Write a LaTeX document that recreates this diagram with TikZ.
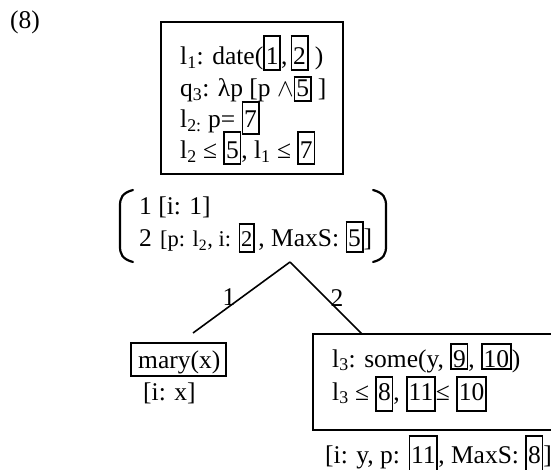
\documentclass[tikz,border=0pt]{standalone}
\usepackage{fontspec}
\setmainfont{Liberation Serif}
\newcommand{\bx}[3][4pt]{{\setlength\fboxsep{0pt}\setlength\fboxrule{1.8pt}\fbox{\rule[-#1]{0pt}{\dimexpr#1+#2\relax}\hspace{0.8pt}#3\hspace{0.8pt}}}}
\newcommand{\sub}[1]{\textsubscript{#1}}
\begin{document}
\begin{tikzpicture}[x=1pt,y=-1pt,
  txt/.style={anchor=base west,inner sep=0pt,font=\fontsize{25.5}{32}\selectfont},
  small/.style={anchor=base west,inner sep=0pt,font=\fontsize{22.5}{28}\selectfont},
  frame/.style={draw,line width=1.8pt},
  edge/.style={line width=1.6pt},
  paren/.style={line width=2.2pt,line cap=round}]
\useasboundingbox (0,0) rectangle (551,470);
\clip (0,0) rectangle (551,470);
% label
\node[txt] (num) at (10,29) {(8)};
% top box
\draw[frame] (161,22) rectangle (343,174);
\node[txt] (t1) at (180,65) {l\sub{1}: date(\bx{28pt}{1},\kern3pt\bx{28pt}{2} )};
\node[txt] (t2) at (180,97) {q\sub{3}: λp [p $\wedge$\bx[3pt]{19pt}{5} ]};
\node[txt] (t3) at (180,128) {l\sub{2:} p= \bx[5pt]{25pt}{7}};
\node[txt] (t4) at (180,159) {l\sub{2} ≤ \bx[4pt]{26pt}{5}, l\sub{1} ≤ \bx[4pt]{26pt}{7}};
% bracket
\draw[paren] (133,190) .. controls (122,193) and (120,198) .. (120,206) -- (120,246) .. controls (120,254) and (122,259) .. (133,262);
\draw[paren] (373,190) .. controls (384,193) and (386,198) .. (386,206) -- (386,246) .. controls (386,254) and (384,259) .. (373,262);
\node[txt] (b1) at (139,215) {1 [i: 1]};
\node[txt] (b2a) at (139,247) {2};
\node[small] (b2b) at (160,247) {[p: l\sub{2}, i: \bx[4pt]{22pt}{2}};
\node[txt] (b2c) at (b2b.base east) [anchor=base west] {\kern3pt, MaxS: \bx[4pt]{24pt}{5}]};
% tree
\coordinate (apex) at (290,262);
\coordinate (lend) at (193,333);
\coordinate (rend) at (362,334);
\draw[edge] (apex) -- (lend);
\draw[edge] (apex) -- (rend);
\node[txt,anchor=center] (e1) at (229,297) {1};
\node[txt,anchor=center] (e2) at (337,298) {2};
% left leaf
\draw[frame] (131,343) rectangle (226,376);
\node[txt] (m1) at (138,368) {mary(x)};
\node[txt] (m2) at (143,400) {[i: x]};
% right leaf
\draw[frame] (313,334) rectangle (565,430);
\node[txt] (r1) at (332,367) {l\sub{3}: some(y, \bx[1pt]{22pt}{9}, \bx[1pt]{22pt}{10})};
\node[txt] (r2) at (332,400) {l\sub{3} ≤ \bx[10pt]{22pt}{8}, \bx[10pt]{22pt}{11}≤ \bx[10pt]{22pt}{10}};
\node[txt] (r3) at (325,463) {[i: y, p: \bx[8pt]{26pt}{11}, MaxS: \bx[8pt]{26pt}{8}]};
\end{tikzpicture}
\end{document}
